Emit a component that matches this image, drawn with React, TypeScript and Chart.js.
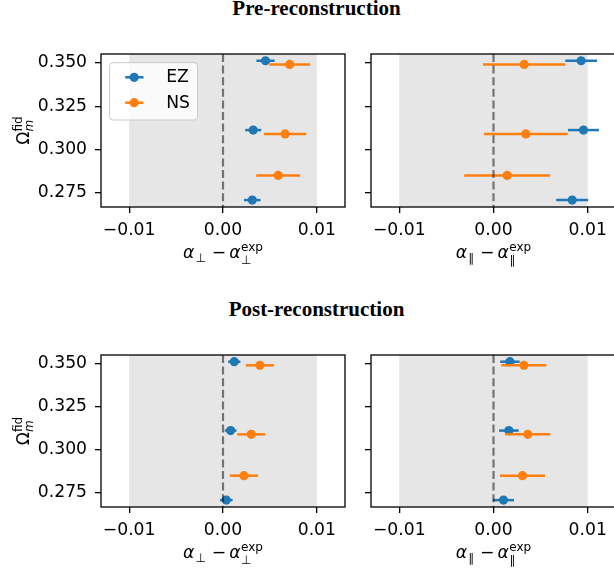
import React, { useEffect, useRef } from "react";
import { Chart, registerables } from "chart.js";

Chart.register(...registerables);

// ---------------- data ----------------
const seriesNames = ["EZ", "NS"];
const omegaEZ = [0.3512, 0.3112, 0.2708];
const omegaNS = [0.3491, 0.309, 0.285];

// Pre-reconstruction
const prePerpEZ = [0.00453, 0.00322, 0.00312];
const prePerpEZErr = [0.00097, 0.00085, 0.00088];
const prePerpNS = [0.00711, 0.00662, 0.00588];
const prePerpNSErr = [0.00218, 0.00226, 0.00234];
const preParEZ = [0.0093, 0.00955, 0.00835];
const preParEZErr = [0.00168, 0.00164, 0.0017];
const preParNS = [0.00326, 0.00343, 0.00145];
const preParNSErr = [0.00437, 0.00445, 0.00456];

// Post-reconstruction
const postPerpEZ = [0.0012, 0.00081, 0.00035];
const postPerpEZErr = [0.00065, 0.00062, 0.00067];
const postPerpNS = [0.00393, 0.00301, 0.00223];
const postPerpNSErr = [0.0015, 0.00149, 0.0015];
const postParEZ = [0.00174, 0.00163, 0.00106];
const postParEZErr = [0.00103, 0.00104, 0.00111];
const postParNS = [0.00322, 0.00364, 0.00308];
const postParNSErr = [0.00239, 0.00239, 0.00239];

const xTicks = [-0.01, 0, 0.01];
const yTicks = [0.275, 0.3, 0.325, 0.35];
const xMin = -0.013;
const xMax = 0.013;
const yMin = 0.2668;
const yMax = 0.3551;
const bandMin = -0.01;
const bandMax = 0.01;
const refLine = 0;
const titles = ["Pre-reconstruction", "Post-reconstruction"];

// ---------------- styles ----------------
const BLUE = "#1f77b4";
const ORANGE = "#ff7f0e";
const FONT = "'DejaVu Sans', sans-serif";
const FS = 17.2;
const SFS = 12;
const mainF = `${FS}px ${FONT}`;
const italF = `italic ${FS}px ${FONT}`;
const smallF = `${SFS}px ${FONT}`;
const smallItalF = `italic ${SFS}px ${FONT}`;

type Piece = { t: string; f: string; dy?: number; gap?: number; stack?: { t: string; f: string; dy: number } };

function drawRun(ctx: CanvasRenderingContext2D, pieces: Piece[], cx: number, by: number) {
  const widths = pieces.map((p) => {
    ctx.font = p.f;
    let w = ctx.measureText(p.t).width;
    if (p.stack) {
      ctx.font = p.stack.f;
      w = Math.max(w, ctx.measureText(p.stack.t).width);
    }
    return w;
  });
  const total = widths.reduce((a, w, i) => a + w + (pieces[i].gap || 0), 0);
  let x = cx - total / 2;
  ctx.textAlign = "left";
  ctx.textBaseline = "alphabetic";
  ctx.fillStyle = "#000";
  pieces.forEach((p, i) => {
    ctx.font = p.f;
    ctx.fillText(p.t, x, by + (p.dy || 0));
    if (p.stack) {
      ctx.font = p.stack.f;
      ctx.fillText(p.stack.t, x, by + p.stack.dy);
    }
    x += widths[i] + (p.gap || 0);
  });
}

function xLabelPieces(sym: string): Piece[] {
  return [
    { t: "α", f: italF, gap: 1 },
    { t: sym, f: smallF, dy: 4, gap: 6 },
    { t: "−", f: mainF, gap: 3 },
    { t: "α", f: italF, gap: 0.5 },
    { t: "exp", f: smallF, dy: -7.5, stack: { t: sym, f: smallF, dy: 5.5 } },
  ];
}

const yLabelPieces: Piece[] = [
  { t: "Ω", f: mainF },
  { t: "fid", f: smallF, dy: -7.5, stack: { t: "m", f: smallItalF, dy: 4 } },
];

type PanelCfg = {
  ez: number[];
  ezErr: number[];
  ns: number[];
  nsErr: number[];
  sym: string;
  showY: boolean;
  legend: boolean;
  left: number;
  top: number;
  w: number;
  h: number;
  yAxisW: number;
  padTop: number;
  padRight: number;
  xAxisH: number;
};

function fmtX(v: number) {
  if (Math.abs(v) < 1e-12) return "0.00";
  return (v < 0 ? "−" : "") + Math.abs(v).toFixed(2);
}

function makeConfig(p: PanelCfg): any {
  const datasets: any[] = [];
  const add = (xs: number[], errs: number[], ys: number[], color: string, orderBase: number) => {
    xs.forEach((x, i) => {
      datasets.push({
        data: [
          { x: x - errs[i], y: ys[i] },
          { x: x + errs[i], y: ys[i] },
        ],
        showLine: true,
        borderColor: color,
        backgroundColor: color,
        borderWidth: 2.5,
        borderCapStyle: "butt",
        pointRadius: 0,
        order: orderBase + 1,
      });
    });
    datasets.push({
      data: xs.map((x, i) => ({ x, y: ys[i] })),
      showLine: false,
      backgroundColor: color,
      borderColor: color,
      borderWidth: 0,
      pointRadius: 4.6,
      order: orderBase,
    });
  };
  add(p.ez, p.ezErr, omegaEZ, BLUE, 3);
  add(p.ns, p.nsErr, omegaNS, ORANGE, 1);

  const plugin = {
    id: "panelDecor",
    beforeDatasetsDraw(chart: any) {
      const { ctx, chartArea: a, scales } = chart;
      const x0 = scales.x.getPixelForValue(bandMin);
      const x1 = scales.x.getPixelForValue(bandMax);
      ctx.save();
      ctx.fillStyle = "#e6e6e6";
      ctx.fillRect(x0, a.top, x1 - x0, a.bottom - a.top);
      ctx.restore();
    },
    afterDatasetsDraw(chart: any) {
      const { ctx, chartArea: a, scales } = chart;
      const xz = scales.x.getPixelForValue(refLine);
      ctx.save();
      ctx.strokeStyle = "rgba(0,0,0,0.5)";
      ctx.lineWidth = 2.2;
      ctx.setLineDash([8, 3.6]);
      ctx.beginPath();
      ctx.moveTo(xz, a.top);
      ctx.lineTo(xz, a.bottom);
      ctx.stroke();
      ctx.setLineDash([]);
      // frame
      ctx.strokeStyle = "#000";
      ctx.lineWidth = 1.3;
      ctx.strokeRect(a.left, a.top, a.right - a.left, a.bottom - a.top);
      // legend
      if (p.legend) {
        const bx = a.left + 8.5;
        const by = a.top + 8.7;
        const bw = 88;
        const bh = 57.3;
        ctx.fillStyle = "rgba(255,255,255,0.8)";
        ctx.strokeStyle = "#cccccc";
        ctx.lineWidth = 1;
        ctx.beginPath();
        (ctx as any).roundRect(bx, by, bw, bh, 3.5);
        ctx.fill();
        ctx.stroke();
        const rows = [
          { c: BLUE, n: seriesNames[0], y: by + 14.6 },
          { c: ORANGE, n: seriesNames[1], y: by + 40 },
        ];
        rows.forEach((r) => {
          ctx.strokeStyle = r.c;
          ctx.lineWidth = 2.5;
          ctx.beginPath();
          ctx.moveTo(bx + 15.7, r.y);
          ctx.lineTo(bx + 34, r.y);
          ctx.stroke();
          ctx.fillStyle = r.c;
          ctx.beginPath();
          ctx.arc(bx + 24.7, r.y, 4.6, 0, Math.PI * 2);
          ctx.fill();
          ctx.fillStyle = "#000";
          ctx.font = mainF;
          ctx.textAlign = "left";
          ctx.textBaseline = "middle";
          ctx.fillText(r.n, bx + 56.7, r.y + 0.5);
        });
      }
      ctx.restore();
    },
    afterDraw(chart: any) {
      const { ctx, chartArea: a } = chart;
      ctx.save();
      drawRun(ctx, xLabelPieces(p.sym), (a.left + a.right) / 2, a.bottom + 51);
      if (p.showY) {
        ctx.translate(a.left - 72, (a.top + a.bottom) / 2);
        ctx.rotate(-Math.PI / 2);
        drawRun(ctx, yLabelPieces, 0, 0);
      }
      ctx.restore();
    },
  };

  return {
    type: "scatter",
    data: { datasets },
    plugins: [plugin],
    options: {
      animation: false,
      responsive: false,
      maintainAspectRatio: false,
      events: [],
      layout: { padding: { top: p.padTop, right: p.padRight, left: 0, bottom: 0 } },
      plugins: { legend: { display: false }, tooltip: { enabled: false }, title: { display: false } },
      scales: {
        x: {
          type: "linear",
          min: xMin,
          max: xMax,
          afterBuildTicks: (s: any) => {
            s.ticks = xTicks.map((v) => ({ value: v }));
          },
          afterFit: (s: any) => {
            s.height = p.xAxisH;
          },
          ticks: {
            callback: (v: any) => fmtX(Number(v)),
            font: { family: "'DejaVu Sans'", size: FS },
            color: "#000",
            padding: 7,
            maxRotation: 0,
            autoSkip: false,
          },
          grid: { display: true, drawOnChartArea: false, drawTicks: true, tickLength: 6, color: "#000", lineWidth: 1.3 },
          border: { display: false },
        },
        y: {
          type: "linear",
          min: yMin,
          max: yMax,
          afterBuildTicks: (s: any) => {
            s.ticks = yTicks.map((v) => ({ value: v }));
          },
          afterFit: (s: any) => {
            s.width = p.yAxisW;
          },
          ticks: {
            callback: (v: any) => (p.showY ? Number(v).toFixed(3) : ""),
            font: { family: "'DejaVu Sans'", size: FS },
            color: "#000",
            padding: 8,
            autoSkip: false,
          },
          grid: { display: true, drawOnChartArea: false, drawTicks: true, tickLength: 6, color: "#000", lineWidth: 1.3 },
          border: { display: false },
        },
      },
    },
  };
}

const panels: PanelCfg[] = [
  { ez: prePerpEZ, ezErr: prePerpEZErr, ns: prePerpNS, nsErr: prePerpNSErr, sym: "⊥", showY: true, legend: true,
    left: 0, top: 30, w: 357, h: 250, yAxisW: 101, padTop: 24, padRight: 12, xAxisH: 73 },
  { ez: preParEZ, ezErr: preParEZErr, ns: preParNS, nsErr: preParNSErr, sym: "∥", showY: false, legend: false,
    left: 357, top: 30, w: 273, h: 250, yAxisW: 14, padTop: 24, padRight: 14, xAxisH: 73 },
  { ez: postPerpEZ, ezErr: postPerpEZErr, ns: postPerpNS, nsErr: postPerpNSErr, sym: "⊥", showY: true, legend: false,
    left: 0, top: 330, w: 357, h: 240, yAxisW: 101, padTop: 25, padRight: 12, xAxisH: 63 },
  { ez: postParEZ, ezErr: postParEZErr, ns: postParNS, nsErr: postParNSErr, sym: "∥", showY: false, legend: false,
    left: 357, top: 330, w: 273, h: 240, yAxisW: 14, padTop: 25, padRight: 14, xAxisH: 63 },
];

export default function App() {
  const refs = [useRef<HTMLCanvasElement>(null), useRef<HTMLCanvasElement>(null), useRef<HTMLCanvasElement>(null), useRef<HTMLCanvasElement>(null)];
  useEffect(() => {
    const charts = panels.map((p, i) => new Chart(refs[i].current as HTMLCanvasElement, makeConfig(p)));
    return () => charts.forEach((c) => c.destroy());
  }, []);
  const titleStyle = (top: number): React.CSSProperties => ({
    position: "absolute",
    left: 0,
    width: 633,
    top,
    textAlign: "center",
    fontFamily: "'Liberation Serif', 'Times New Roman', serif",
    fontWeight: "bold",
    fontSize: 21,
    lineHeight: "21px",
    color: "#000",
    whiteSpace: "nowrap",
  });
  return (
    <div style={{ position: "fixed", left: 0, top: 0, width: 614, height: 570, overflow: "hidden", background: "#fff" }}>
      <div style={titleStyle(-1.6)}>{titles[0]}</div>
      <div style={titleStyle(299.1)}>{titles[1]}</div>
      {panels.map((p, i) => (
        <canvas
          key={i}
          ref={refs[i]}
          width={p.w}
          height={p.h}
          style={{ position: "absolute", left: p.left, top: p.top, width: p.w, height: p.h }}
        />
      ))}
    </div>
  );
}
